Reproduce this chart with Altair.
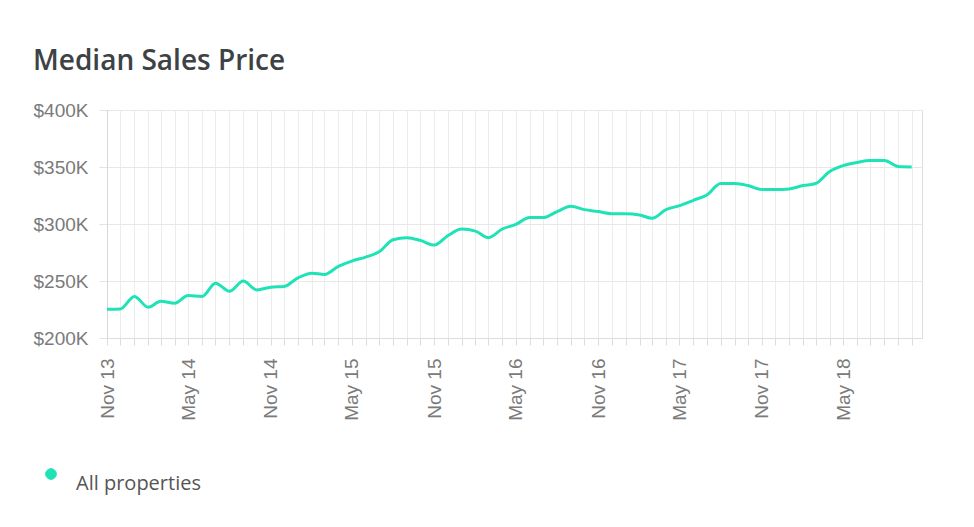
import altair as alt
import pandas as pd

months = [
    "2013-11", "2013-12", "2014-01", "2014-02", "2014-03", "2014-04", "2014-05", "2014-06",
    "2014-07", "2014-08", "2014-09", "2014-10", "2014-11", "2014-12", "2015-01", "2015-02",
    "2015-03", "2015-04", "2015-05", "2015-06", "2015-07", "2015-08", "2015-09", "2015-10",
    "2015-11", "2015-12", "2016-01", "2016-02", "2016-03", "2016-04", "2016-05", "2016-06",
    "2016-07", "2016-08", "2016-09", "2016-10", "2016-11", "2016-12", "2017-01", "2017-02",
    "2017-03", "2017-04", "2017-05", "2017-06", "2017-07", "2017-08", "2017-09", "2017-10",
    "2017-11", "2017-12", "2018-01", "2018-02", "2018-03", "2018-04", "2018-05", "2018-06",
    "2018-07", "2018-08", "2018-09", "2018-10",
]
median_price = [
    225200, 225500, 236400, 227000, 232300, 230500, 237200, 236400,
    248100, 241000, 249900, 242200, 244600, 245200, 252800, 256900,
    255700, 262800, 267500, 271000, 275700, 286200, 288000, 285600,
    281500, 289700, 295600, 293800, 288000, 295600, 299700, 305600,
    305600, 310900, 315500, 312600, 310900, 309100, 309100, 307900,
    305000, 312600, 316100, 320800, 325500, 335500, 335500, 333700,
    330200, 330200, 330800, 333700, 335500, 346000, 351200, 354000,
    355700, 355700, 350400, 350000,
]
series_name = "All properties"

df = pd.DataFrame({
    "date": [m + "-01T00:00:00" for m in months],
    "price": median_price,
    "series": [series_name] * len(months),
})

teal = "#1fe3b6"
label_font = "Liberation Sans"
ui_font = "Open Sans"

chart = alt.Chart(df).mark_line(
    interpolate="monotone", strokeWidth=3, color=teal
).encode(
    x=alt.X(
        "date:T",
        title=None,
        scale=alt.Scale(domain=[
            alt.DateTime(year=2013, month=11, date=1),
            alt.DateTime(year=2018, month=10, date=24),
        ]),
        axis=alt.Axis(
            tickCount={"interval": "month", "step": 1},
            labelExpr="(month(datum.value) == 4 || month(datum.value) == 10) ? timeFormat(datum.value, '%b %y') : ''",
            labelAngle=-90,
            labelAlign="right",
            labelBaseline="middle",
            labelFont=label_font,
            labelFontSize=19,
            labelColor="#7a7a7a",
            labelPadding=13,
            labelOverlap=False,
            labelFlush=False,
            tickSize=7,
            tickColor="#dcdcdc",
            domainColor="#dcdcdc",
            gridColor="#ececec",
            grid=True,
        ),
    ),
    y=alt.Y(
        "price:Q",
        title=None,
        scale=alt.Scale(domain=[200000, 400000], nice=False, zero=False),
        axis=alt.Axis(
            values=[200000, 250000, 300000, 350000, 400000],
            labelExpr="'$' + format(datum.value / 1000, 'd') + 'K'",
            labelFont=label_font,
            labelFontSize=19,
            labelColor="#7a7a7a",
            labelPadding=11,
            tickSize=8,
            tickColor="#e2e2e2",
            domainColor="#d6d6d6",
            gridColor="#e8e8e8",
            grid=True,
        ),
    ),
    stroke=alt.Stroke(
        "series:N",
        scale=alt.Scale(domain=[series_name], range=[teal]),
        legend=alt.Legend(
            title=None,
            orient="none",
            legendX=-66,
            legendY=354,
            symbolType="circle",
            symbolSize=115,
            symbolFillColor=teal,
            symbolStrokeColor="#cfcfcf",
            symbolStrokeWidth=1,
            labelFont=ui_font,
            labelFontSize=20,
            labelColor="#555555",
            labelBaseline="top",
            labelOffset=15,
        ),
    ),
).properties(
    width=815,
    height=228,
    title=alt.TitleParams(
        "Median Sales Price",
        anchor="start",
        frame="group",
        dx=-74,
        offset=25,
        font=ui_font,
        fontSize=28,
        fontWeight=600,
        color="#3d4245",
    ),
    autosize=alt.AutoSizeParams(type="none"),
    padding={"left": 107, "top": 110, "right": 52, "bottom": 189},
).configure_view(stroke=None).configure(background="white")

chart.save("out.html", embed_options={"renderer": "svg", "actions": False})
